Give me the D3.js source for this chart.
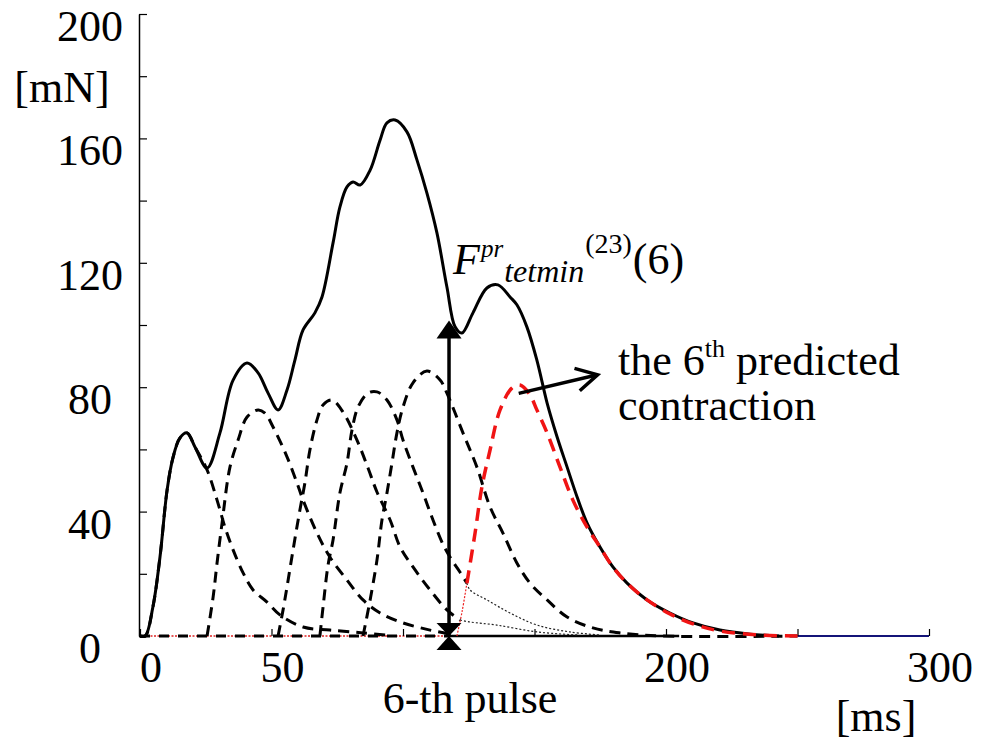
<!DOCTYPE html>
<html>
<head>
<meta charset="utf-8">
<script src="https://cdn.jsdelivr.net/npm/d3@7"></script>
<style>
  html, body { margin: 0; padding: 0; background: #fff; }
  svg { display: block; font-family: "Liberation Serif", "Times New Roman", serif; }
</style>
</head>
<body>
<svg id="chart" width="994" height="740"></svg>
<script>
// ---------------- data (time [ms], force [mN]) ----------------
const xTickValues = [0, 50, 100, 150, 200, 250, 300];
const xTickLabels = [0, 50, 200, 300];
const yTickValues = [0, 20, 40, 60, 80, 100, 120, 140, 160, 180, 200];
const yTickLabels = [0, 40, 80, 120, 160, 200];

// measured total force (solid line)
const totalForce = [[0,0],[2,0],[4.9,9.3],[7.6,25.4],[10.3,46.9],[12.5,57.2],[15.2,63.7],[17.9,65.3],
  [20.9,60.8],[25.5,54.0],[30.4,65.3],[35.4,82.3],[40.7,87.8],[44.9,84.6],[48.7,78.1],[52.5,72.7],
  [55.9,79.1],[58.9,88.7],[62.0,98.4],[66.5,103.9],[69.2,109.0],[73.4,126.4],[76.0,137.9],[78.7,144.4],
  [81.0,146.0],[83.7,145.0],[87.5,149.8],[91.3,159.5],[93.9,165.0],[97.0,165.9],[101.5,162.1],
  [105.3,153.1],[109.1,142.4],[112.9,129.6],[116.7,112.2],[119.8,99.4],[122.4,97.4],[126.6,103.9],
  [131.9,111.9],[136.1,112.9],[140.7,109.0],[143.3,106.5],[147.1,99.4],[150.9,88.7],[154.8,74.9],
  [158.6,64.0],[162.4,54.3],[166.2,44.7],[170.0,36.3],[174.9,28.6],[179.8,22.2],[185.2,17.0],
  [192.8,11.6],[201.5,7.4],[210.3,4.2],[220.5,1.9],[232,0.6],[243,0]];

// individual contractions (dashed lines)
const pulse1 = [[0,0],[2,0],[4.9,9.3],[7.6,25.4],[10.3,46.9],[12.5,57.2],[15.2,63.7],[17.9,65.3],
  [20.9,60.8],[25.5,53.4],[29.3,43.7],[32.3,35.0],[35.4,27.7],[39.2,20.3],[43.0,14.8],[48.3,10.9],
  [53.2,6.8],[62.0,2.9],[72.2,1.9],[84.8,1.0],[95,0.2]];
const pulse2 = [[25.5,0],[27.8,12.5],[29.3,23.5],[31.2,36.3],[34.2,54.3],[37.3,63.0],[40.7,70.4],
  [44.9,72.7],[47.5,71.7],[50.6,67.2],[55.9,57.6],[59.7,49.2],[62.0,43.7],[67.3,33.1],[72.2,25.4],
  [78.7,18.0],[84.8,11.6],[91.3,7.4],[100.0,4.2],[110.3,1.9],[117.9,0.6]];
const pulse3 = [[52.5,0],[54.4,8.4],[55.9,15.8],[58.2,27.7],[60.8,40.5],[62.7,49.2],[64.6,59.8],
  [67.3,69.5],[69.6,74.3],[73.0,75.9],[77.2,72.0],[82.5,63.0],[86.7,54.0],[90.1,46.3],[95.1,37.3],
  [98.9,28.6],[103.8,22.2],[110.3,14.8],[116.7,8.4],[121.7,5.1]];
const pulse3Tail = [[121.7,5.1],[125.5,4.5],[135.7,3.5],[151,1.3],[167,0.3]];
const pulse4 = [[68.4,0],[69.6,9.3],[71.5,22.8],[73.4,30.9],[76.0,46.0],[78.7,55.6],[80.6,66.2],
  [82.9,73.6],[86.7,78.1],[90.1,78.5],[93.9,75.9],[97.7,69.5],[100.0,63.0],[103.8,54.3],[107.6,46.0],
  [111.4,37.3],[115.2,29.5],[118.5,24.5],[121.7,20.5],[124.3,17.0]];
const pulse4Tail = [[124.3,17.0],[125.5,14.8],[131.9,11.6],[140.7,7.4],[151,3.5],[163.5,1.3],[175,0.3]];
const pulse5 = [[84.8,0],[87.5,11.6],[90.1,24.4],[92.0,37.3],[93.9,46.0],[95.8,55.6],[97.7,65.3],
  [100.0,73.6],[103.8,81.4],[109.1,85.2],[114.1,82.3],[116.7,78.1],[122.8,65.3],[128.1,54.3],
  [133.1,41.5],[138.0,33.1],[143.3,23.5],[148.3,17.0],[154.8,11.6],[162.4,6.1],[172.2,2.6],
  [182.5,1.0],[197.7,0],[250,0]];
// the 6th predicted contraction (red dashed)
const predicted6 = [[124.3,17.0],[127.4,33.1],[130.0,47.9],[133.1,59.8],[136.9,72.7],[141.4,79.7],
  [144.5,80.7],[148.3,77.5],[150.9,72.7],[154.8,65.3],[159.7,54.3],[164.6,43.7],[170.0,35.0],
  [174.9,28.6],[179.8,22.2],[185.2,17.0],[192.8,11.6],[201.5,7.1],[210.3,3.9],[220.5,1.6],
  [235.7,0.3],[250,0]];
const predicted6Lead = [[120.5,0],[122.5,8],[124.3,17.0]];

const pulseTime6 = 117.5;      // 6-th pulse
const forceAtPulse6 = 96;      // F^pr_tetmin(6)

// ---------------- chart ----------------
const svg = d3.select("#chart");
const x = d3.scaleLinear().domain([0, 300]).range([140, 929]);
const y = d3.scaleLinear().domain([0, 200]).range([636, 14]);
const FS = 44;

const line = d3.line().x(d => x(d[0])).y(d => y(d[1])).curve(d3.curveCatmullRom.alpha(0.5));
const straight = d3.line().x(d => x(d[0])).y(d => y(d[1]));

// baseline pieces along the x axis
svg.append("path").attr("d", straight([[250,0],[300,0]]))
  .attr("stroke", "#141478").attr("stroke-width", 2).attr("fill", "none");
svg.append("path").attr("d", straight([[0,0],[pulseTime6,0]]))
  .attr("stroke", "#d22").attr("stroke-width", 1.5).attr("stroke-dasharray", "2,1.5").attr("fill", "none");
svg.append("path").attr("d", straight([[0,0],[pulseTime6,0]]))
  .attr("stroke", "#000").attr("stroke-width", 3).attr("stroke-dasharray", "10,9").attr("fill", "none");
svg.append("path").attr("d", straight([[pulseTime6,0],[205,0]]))
  .attr("stroke", "#000").attr("stroke-width", 2.5).attr("fill", "none");

// y axis
const yAxis = d3.axisRight(y).tickValues(yTickValues).tickSize(8).tickSizeOuter(0).tickFormat("");
const gy = svg.append("g").attr("transform", `translate(${x(0) - 1},0)`).call(yAxis);
gy.select(".domain").attr("stroke", "#000").attr("stroke-width", 1.5);
gy.selectAll(".tick line").attr("stroke", "#000").attr("stroke-width", 1.2);

// x axis ticks (pointing up)
const xAxis = d3.axisTop(x).tickValues(xTickValues).tickSize(7).tickSizeOuter(0).tickFormat("");
const gx = svg.append("g").attr("transform", `translate(0,${y(0)})`).call(xAxis);
gx.select(".domain").remove();
gx.selectAll(".tick line").attr("stroke", "#000").attr("stroke-width", 1.2);

// y tick labels
svg.append("g").selectAll("text").data(yTickLabels).join("text")
  .attr("x", 90).attr("y", d => y(d) + 27)
  .attr("text-anchor", "middle").attr("font-size", FS).text(d => d);
svg.append("text").attr("x", 62).attr("y", 102).attr("text-anchor", "middle")
  .attr("font-size", FS).text("[mN]");

// x tick labels
svg.append("g").selectAll("text").data(xTickLabels).join("text")
  .attr("x", d => x(d) + 11).attr("y", y(0) + 46)
  .attr("text-anchor", "middle").attr("font-size", FS).text(d => d);
svg.append("text").attr("x", 876).attr("y", 731).attr("text-anchor", "middle")
  .attr("font-size", FS).text("[ms]");

// dotted residual tails
[pulse3Tail, pulse4Tail].forEach(s => {
  svg.append("path").attr("d", line(s)).attr("fill", "none")
    .attr("stroke", "#222").attr("stroke-width", 1.2).attr("stroke-dasharray", "2,2");
});
svg.append("path").attr("d", line(predicted6Lead)).attr("fill", "none")
  .attr("stroke", "#e22").attr("stroke-width", 1.2).attr("stroke-dasharray", "2,1.5");

// dashed contractions
[pulse1, pulse2, pulse3, pulse4, pulse5].forEach(s => {
  svg.append("path").attr("d", line(s)).attr("fill", "none")
    .attr("stroke", "#000").attr("stroke-width", 3).attr("stroke-dasharray", "11,7");
});

// total force
svg.append("path").attr("d", line(totalForce)).attr("fill", "none")
  .attr("stroke", "#000").attr("stroke-width", 3).attr("stroke-linejoin", "round");

// predicted 6th contraction
svg.append("path").attr("d", line(predicted6)).attr("fill", "none")
  .attr("stroke", "#f01414").attr("stroke-width", 3.5).attr("stroke-dasharray", "13,8");

// pulse arrow (6-th pulse)
const px = x(pulseTime6);
svg.append("line").attr("x1", px).attr("x2", px).attr("y1", y(0)).attr("y2", y(forceAtPulse6))
  .attr("stroke", "#000").attr("stroke-width", 3.5);
const tri = (cx, tipY, baseY, hw) => `M${cx},${tipY}L${cx - hw},${baseY}L${cx + hw},${baseY}Z`;
svg.append("path").attr("d", tri(px, y(forceAtPulse6) - 17, y(forceAtPulse6) + 1, 12.5)).attr("fill", "#000");
svg.append("path").attr("d", tri(px, y(0), y(0) - 13, 12.5)).attr("fill", "#000");
svg.append("path").attr("d", tri(px, y(0), y(0) + 14, 12.5)).attr("fill", "#000");
svg.append("text").attr("x", px + 21).attr("y", 713).attr("text-anchor", "middle")
  .attr("font-size", FS).text("6-th pulse");

// F^pr_tetmin^(23)(6) label, one text element with tspans
const lab = svg.append("text").attr("x", px + 4).attr("y", 274).attr("font-size", FS);
lab.append("tspan").attr("font-style", "italic").text("F");
lab.append("tspan").attr("font-style", "italic").attr("font-size", 25).attr("dx", 1).attr("dy", -17).text("pr");
lab.append("tspan").attr("font-style", "italic").attr("font-size", 32).attr("dx", 1).attr("dy", 25).text("tetmin");
lab.append("tspan").attr("font-size", 28).attr("dx", 1).attr("dy", -29).text("(23)");
lab.append("tspan").attr("dx", 1).attr("dy", 21).text("(6)");

// arrow to the 6th predicted contraction
const ax1 = x(144), ay1 = y(78), ax2 = x(174), ay2 = y(84);
svg.append("line").attr("x1", ax1).attr("y1", ay1).attr("x2", ax2).attr("y2", ay2)
  .attr("stroke", "#000").attr("stroke-width", 3.5);
const ang = Math.atan2(ay2 - ay1, ax2 - ax1);
const ah = 24, spread = 0.5;
svg.append("path").attr("d",
  `M${ax2 - ah * Math.cos(ang - spread)},${ay2 - ah * Math.sin(ang - spread)}L${ax2},${ay2}L${ax2 - ah * Math.cos(ang + spread)},${ay2 - ah * Math.sin(ang + spread)}`)
  .attr("fill", "none").attr("stroke", "#000").attr("stroke-width", 3.5).attr("stroke-linejoin", "miter");

const t1 = svg.append("text").attr("x", 618).attr("y", 375).attr("font-size", FS);
t1.append("tspan").text("the 6");
t1.append("tspan").attr("font-size", 26).attr("dy", -18).text("th");
t1.append("tspan").attr("dy", 18).text(" predicted");
svg.append("text").attr("x", 618).attr("y", 420).attr("font-size", FS).text("contraction");
</script>
</body>
</html>
